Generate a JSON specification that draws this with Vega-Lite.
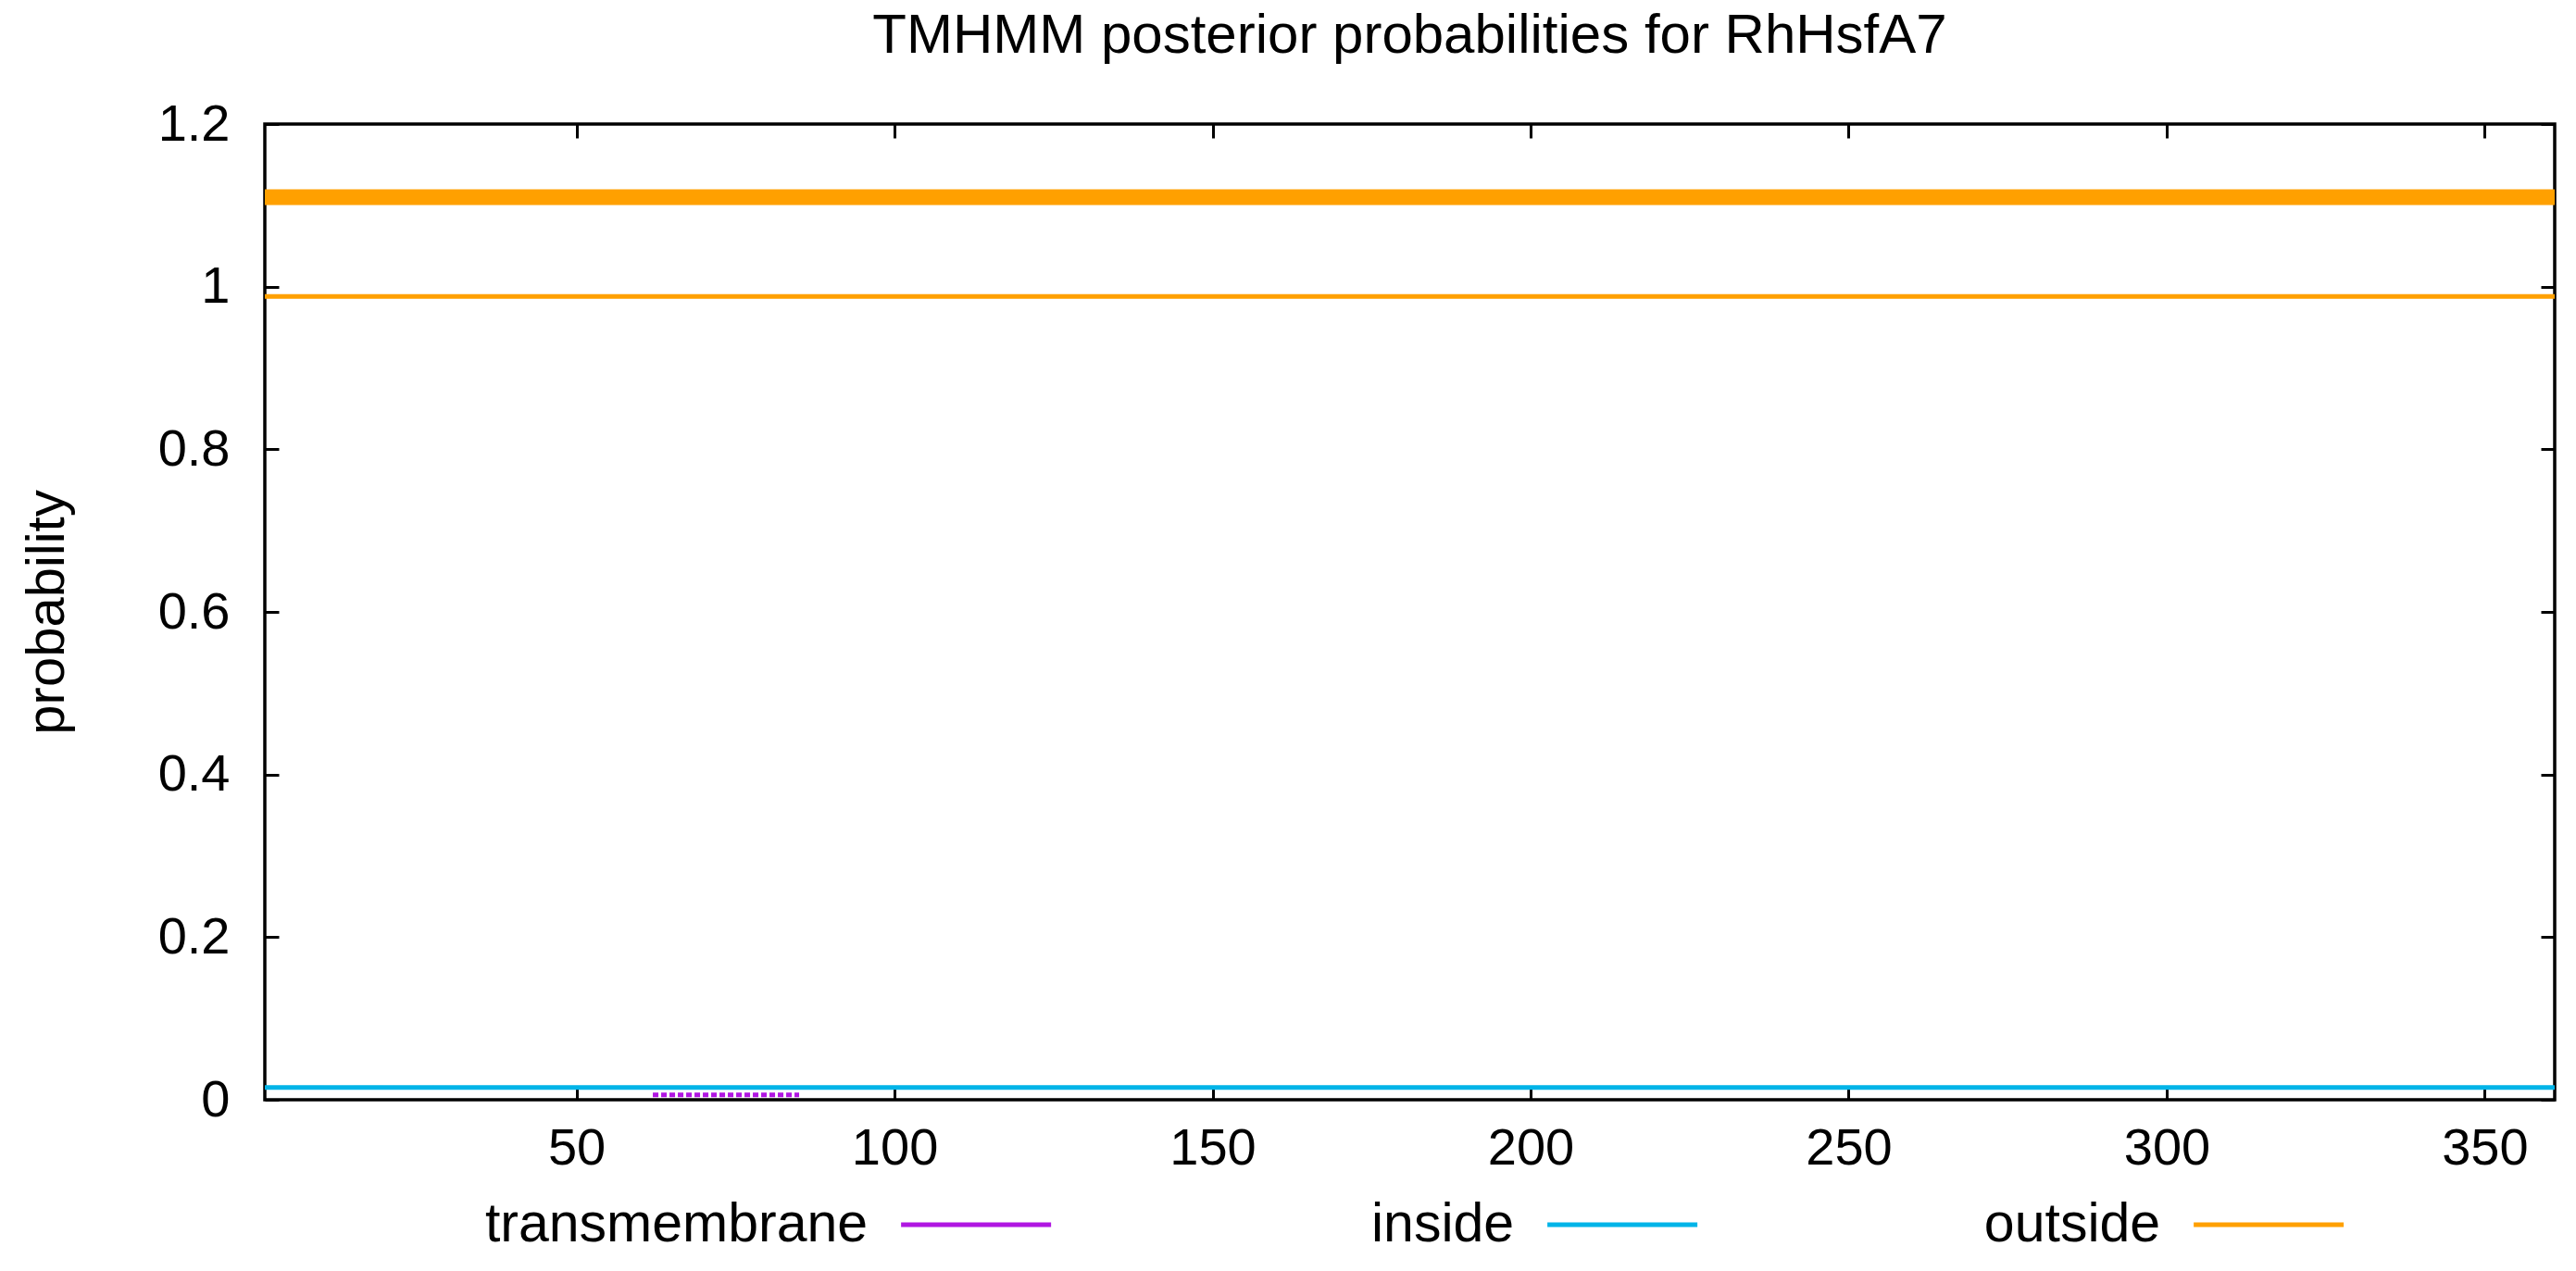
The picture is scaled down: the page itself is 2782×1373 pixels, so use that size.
{
  "$schema": "https://vega.github.io/schema/vega-lite/v6.json",
  "background": "white",
  "padding": {"left": 20, "top": 7, "right": 23, "bottom": 10},
  "datasets": {
    "probs": [
      {"position": 1, "probability": 0.988, "series": "outside", "kind": "posterior"},
      {"position": 361, "probability": 0.988, "series": "outside", "kind": "posterior"},
      {"position": 1, "probability": 1.11, "series": "outside", "kind": "topology"},
      {"position": 361, "probability": 1.11, "series": "outside", "kind": "topology"},
      {"position": 1, "probability": 0.015, "series": "inside", "kind": "posterior"},
      {"position": 361, "probability": 0.015, "series": "inside", "kind": "posterior"},
      {"position": 62, "probability": 0.006, "series": "transmembrane", "kind": "posterior"},
      {"position": 85, "probability": 0.006, "series": "transmembrane", "kind": "posterior"}
    ],
    "legend": [
      {"series": "transmembrane"},
      {"series": "inside"},
      {"series": "outside"}
    ]
  },
  "config": {
    "font": "Liberation Sans",
    "view": {"stroke": "black", "strokeWidth": 3.5},
    "axis": {
      "grid": false,
      "domain": false,
      "tickColor": "black",
      "tickWidth": 3,
      "tickSize": -15,
      "labelColor": "black",
      "labelFont": "Liberation Sans",
      "labelFontSize": 56,
      "labelFlush": false,
      "labelOverlap": false,
      "titleFont": "Liberation Sans",
      "titleFontWeight": "normal",
      "titleColor": "black",
      "titleFontSize": 58
    }
  },
  "spacing": 100,
  "bounds": "flush",
  "vconcat": [
    {
      "width": 2473,
      "height": 1054,
      "title": {
        "text": "TMHMM posterior probabilities for RhHsfA7",
        "frame": "group",
        "anchor": "middle",
        "fontSize": 60,
        "font": "Liberation Sans",
        "fontWeight": "normal",
        "color": "black",
        "offset": 36
      },
      "data": {"name": "probs"},
      "resolve": {"axis": {"x": "independent", "y": "independent"}},
      "layer": [
        {
          "mark": {"type": "line", "strokeCap": "butt"},
          "encoding": {
            "x": {
              "field": "position",
              "type": "quantitative",
              "scale": {"domain": [1, 361], "nice": false, "zero": false},
              "axis": {"orient": "bottom", "values": [50, 100, 150, 200, 250, 300, 350], "labelPadding": 40, "title": null}
            },
            "y": {
              "field": "probability",
              "type": "quantitative",
              "scale": {"domain": [0, 1.2], "nice": false},
              "axis": {"orient": "left", "values": [0, 0.2, 0.4, 0.6, 0.8, 1, 1.2], "format": "~g", "labelPadding": 53, "title": "probability", "titlePadding": 90}
            },
            "color": {
              "field": "series",
              "type": "nominal",
              "scale": {"domain": ["transmembrane", "inside", "outside"], "range": ["#b016e2", "#00b4e8", "#ffa000"]},
              "legend": null
            },
            "strokeWidth": {
              "field": "kind",
              "type": "nominal",
              "scale": {"domain": ["posterior", "topology"], "range": [5, 17]},
              "legend": null
            },
            "strokeDash": {
              "field": "series",
              "type": "nominal",
              "scale": {"domain": ["transmembrane", "inside", "outside"], "range": [[6, 3], [1, 0], [1, 0]]},
              "legend": null
            },
            "detail": {"field": "kind"}
          }
        },
        {
          "mark": {"type": "line", "opacity": 0},
          "encoding": {
            "x": {
              "field": "position",
              "type": "quantitative",
              "axis": {"orient": "top", "values": [50, 100, 150, 200, 250, 300, 350], "labels": false, "title": null}
            },
            "y": {
              "field": "probability",
              "type": "quantitative",
              "axis": {"orient": "right", "values": [0, 0.2, 0.4, 0.6, 0.8, 1, 1.2], "labels": false, "title": null}
            },
            "detail": {"field": "series"}
          }
        }
      ]
    },
    {
      "width": 2473,
      "height": 70,
      "view": {"stroke": null},
      "data": {"name": "legend"},
      "layer": [
        {
          "mark": {"type": "text", "align": "right", "baseline": "middle", "dx": -36, "fontSize": 59, "font": "Liberation Sans", "color": "black"},
          "encoding": {
            "x": {
              "field": "series",
              "type": "nominal",
              "scale": {"type": "point", "domain": ["transmembrane", "inside", "outside"], "padding": 0.7715, "align": 0.638},
              "axis": null
            },
            "text": {"field": "series"}
          }
        },
        {
          "mark": {"type": "rule", "strokeWidth": 5, "x2Offset": 162, "strokeCap": "butt"},
          "encoding": {
            "x": {
              "field": "series",
              "type": "nominal",
              "scale": {"type": "point", "domain": ["transmembrane", "inside", "outside"], "padding": 0.7715, "align": 0.638},
              "axis": null
            },
            "x2": {"field": "series"},
            "color": {"field": "series", "type": "nominal", "legend": null}
          }
        }
      ]
    }
  ]
}
